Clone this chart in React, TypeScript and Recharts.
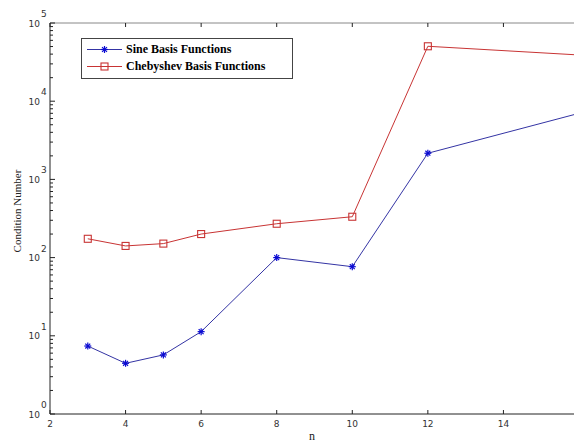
import React from 'react';
import { LineChart, Line, XAxis, YAxis, Legend } from 'recharts';

const nValues = [3, 4, 5, 6, 8, 10, 12, 16];
const sineCond = [7.4, 4.45, 5.7, 11.3, 100, 76.5, 2160, 7000];
const chebyshevCond = [174, 141, 151, 200, 271, 333, 50400, 39000];

const seriesOrder = ['sine', 'cheb'];

const xTicks = [2, 4, 6, 8, 10, 12, 14, 16];
const yMajorTicks = [1, 10, 100, 1000, 10000, 100000];
const yMinorSteps = [2, 3, 4, 5, 6, 7, 8, 9];

const yTicks = [
  ...yMajorTicks,
  ...yMajorTicks.slice(0, -1).flatMap((m) => yMinorSteps.map((k) => m * k)),
].sort((a, b) => a - b);

const data = nValues.map((n, i) => ({
  n,
  sine: sineCond[i],
  cheb: chebyshevCond[i],
}));

const BLUE_LINE = '#3434a4';
const BLUE_MARK = '#0a0ad2';
const RED = '#c83434';
const AXIS = '#222';
const TICK_FONT = 'DejaVu Sans';

const Asterisk = ({ cx, cy, color, r = 3.5 }: any) => (
  <g stroke={color} strokeWidth={1.2}>
    <line x1={cx - r} x2={cx + r} y1={cy} y2={cy} />
    <line x1={cx} x2={cx} y1={cy - r} y2={cy + r} />
    <line x1={cx - r * 0.7} x2={cx + r * 0.7} y1={cy - r * 0.7} y2={cy + r * 0.7} />
    <line x1={cx - r * 0.7} x2={cx + r * 0.7} y1={cy + r * 0.7} y2={cy - r * 0.7} />
  </g>
);

const Square = ({ cx, cy, color, s = 7 }: any) => (
  <rect x={cx - s / 2} y={cy - s / 2} width={s} height={s} fill="none" stroke={color} strokeWidth={1.1} />
);

const SineDot = (props: any) => <Asterisk key={props.index} cx={props.cx} cy={props.cy} color={BLUE_MARK} />;
const ChebDot = (props: any) => <Square key={props.index} cx={props.cx} cy={props.cy} color={RED} />;

const YTick = ({ x, y, payload }: any) => {
  const lg = Math.log10(payload.value);
  const exp = Math.round(lg);
  const major = Math.abs(lg - exp) < 1e-9;
  if (!major) {
    return <line x1={x} x2={x + 3} y1={y} y2={y} stroke={AXIS} />;
  }
  return (
    <g>
      <line x1={x} x2={x + 5} y1={y} y2={y} stroke={AXIS} />
      <text x={x - 10} y={y + 3.5} textAnchor="end" fontFamily={TICK_FONT} fontSize={9} fill="#333">
        10
      </text>
      <text x={x - 9} y={y - 6} textAnchor="start" fontFamily={TICK_FONT} fontSize={9} fill="#333">
        {exp}
      </text>
    </g>
  );
};

// the last label (16) falls outside the cropped picture, so only its tick is drawn
const XTick = ({ x, y, payload }: any) => (
  <g>
    <line x1={x} x2={x} y1={y} y2={y - 4} stroke={AXIS} />
    {payload.value < xTicks[xTicks.length - 1] && (
      <text x={x} y={y + 13} textAnchor="middle" fontFamily={TICK_FONT} fontSize={9} fill="#333">
        {payload.value}
      </text>
    )}
  </g>
);

const TopTick = ({ x, y }: any) => <line x1={x} x2={x} y1={y} y2={y + 4} stroke={AXIS} />;

const LegendBox = ({ payload }: any) => {
  const items = seriesOrder
    .map((key) => (payload || []).find((p: any) => p.dataKey === key))
    .filter(Boolean);
  return (
    <div
      style={{
        border: '1px solid #444',
        background: '#fff',
        padding: '2px 0 3px 0',
        fontFamily: 'Liberation Serif',
        fontWeight: 'bold',
        fontSize: 12,
        lineHeight: '17px',
        color: '#000',
      }}
    >
      {items.map((entry: any) => {
        const isSine = entry.dataKey === 'sine';
        return (
          <div key={entry.dataKey} style={{ display: 'flex', alignItems: 'center', height: 17 }}>
            <svg width={44} height={17} style={{ display: 'block' }}>
              <line x1={5} x2={40} y1={8.5} y2={8.5} stroke={isSine ? BLUE_LINE : RED} />
              {isSine ? (
                <Asterisk cx={22.5} cy={8.5} color={BLUE_MARK} />
              ) : (
                <Square cx={22.5} cy={8.5} color={RED} />
              )}
            </svg>
            <span>{entry.value}</span>
          </div>
        );
      })}
    </div>
  );
};

export default function App() {
  return (
    <div
      style={{
        position: 'fixed',
        top: 0,
        left: 0,
        width: 574,
        height: 442,
        overflow: 'hidden',
        background: '#fff',
      }}
    >
      <LineChart width={600} height={442} data={data} margin={{ top: 0, right: 21, bottom: 0, left: 0 }}>
        <XAxis
          dataKey="n"
          type="number"
          domain={[2, 16]}
          ticks={xTicks}
          interval={0}
          allowDataOverflow
          height={28}
          tickSize={0}
          tickMargin={0}
          tick={<XTick />}
          stroke={AXIS}
          label={{
            content: () => (
              <text x={312} y={440} textAnchor="middle" fontFamily="Liberation Serif" fontSize={12} fill="#222">
                n
              </text>
            ),
          }}
        />
        <XAxis
          xAxisId="top"
          orientation="top"
          dataKey="n"
          type="number"
          domain={[2, 16]}
          ticks={xTicks}
          interval={0}
          allowDataOverflow
          height={23}
          tickSize={0}
          tickMargin={0}
          tick={<TopTick />}
          stroke="#888"
        />
        <YAxis
          scale="log"
          type="number"
          domain={[1, 100000]}
          ticks={yTicks}
          interval={0}
          allowDataOverflow
          width={50}
          tickSize={0}
          tickMargin={0}
          tick={<YTick />}
          stroke={AXIS}
          label={{
            content: () => (
              <text
                x={21}
                y={211}
                textAnchor="middle"
                transform="rotate(-90 21 211)"
                fontFamily="Liberation Serif"
                fontSize={11}
                fill="#222"
              >
                Condition Number
              </text>
            ),
          }}
        />
        <Legend
          layout="horizontal"
          verticalAlign="middle"
          align="center"
          content={<LegendBox />}
          wrapperStyle={{ position: 'absolute', left: 81, top: 38, width: 212, height: 'auto' }}
        />
        <Line
          dataKey="sine"
          name="Sine Basis Functions"
          stroke={BLUE_LINE}
          strokeWidth={1}
          dot={<SineDot />}
          activeDot={false}
          isAnimationActive={false}
        />
        <Line
          dataKey="cheb"
          name="Chebyshev Basis Functions"
          stroke={RED}
          strokeWidth={1}
          dot={<ChebDot />}
          activeDot={false}
          isAnimationActive={false}
        />
      </LineChart>
    </div>
  );
}
